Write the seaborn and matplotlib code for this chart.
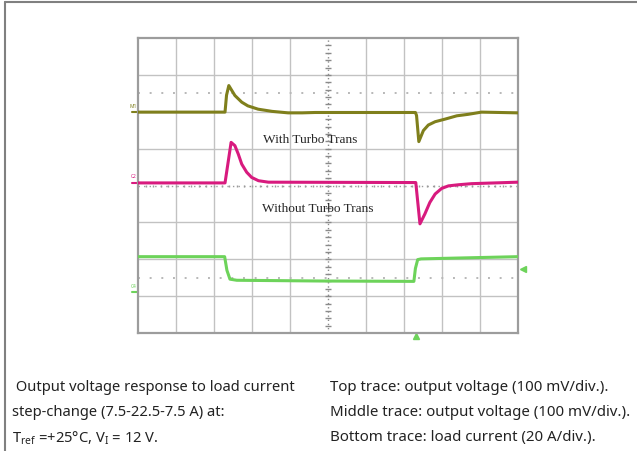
"""
Scope capture: output voltage response to a load current step,
with and without Turbo Trans. Screen units are divisions (10 x 8).
"""

import numpy as np
import pandas as pd
import matplotlib.pyplot as plt
from matplotlib.lines import Line2D
import seaborn as sns

# Top trace (with Turbo Trans), position in divisions
top_t = [0, 2.29, 2.33, 2.39, 2.55, 2.73, 2.89, 3.16, 3.53, 3.95, 4.32, 4.66,
         7.30, 7.33, 7.39, 7.51, 7.64, 7.82, 8.08, 8.39, 8.69, 9.04, 10]
top_v = [5.99, 5.99, 6.45, 6.71, 6.44, 6.26, 6.16, 6.07, 6.01, 5.97, 5.97, 5.98,
         5.98, 5.90, 5.19, 5.49, 5.64, 5.73, 5.80, 5.89, 5.93, 5.99, 5.97]

# Middle trace (without Turbo Trans)
mid_t = [0, 2.29, 2.45, 2.55, 2.64, 2.73, 2.86, 2.99, 3.17, 3.43,
         7.31, 7.42, 7.55, 7.68, 7.82, 7.99, 8.17, 8.43, 8.78, 10]
mid_v = [4.07, 4.07, 5.17, 5.08, 4.85, 4.58, 4.36, 4.22, 4.13, 4.09,
         4.08, 2.96, 3.23, 3.54, 3.77, 3.92, 3.99, 4.02, 4.05, 4.09]

# Bottom trace (load current)
bot_t = [0, 2.28, 2.34, 2.42, 2.60, 4.80, 7.26, 7.30, 7.36, 7.45, 8.30, 10]
bot_v = [2.07, 2.07, 1.70, 1.46, 1.43, 1.41, 1.40, 1.75, 1.99, 2.01, 2.03, 2.07]

trace_names = ['top', 'mid', 'bot']
trace_colors = {'top': '#7f7f1c', 'mid': '#d81a7e', 'bot': '#6dd35a'}

ref_levels = [6.5, 1.5]  # dotted reference lines

caption_left = [' Output voltage response to load current',
                'step-change (7.5-22.5-7.5 A) at:',
                r'T$_\mathrm{ref}$ =+25°C, V$_\mathrm{I}$ = 12 V.']
caption_right = ['Top trace: output voltage (100 mV/div.).',
                 'Middle trace: output voltage (100 mV/div.).',
                 'Bottom trace: load current (20 A/div.).']

df = pd.concat([
    pd.DataFrame({'t': top_t, 'v': top_v, 'trace': 'top'}),
    pd.DataFrame({'t': mid_t, 'v': mid_v, 'trace': 'mid'}),
    pd.DataFrame({'t': bot_t, 'v': bot_v, 'trace': 'bot'}),
])

sns.set_style('white')
plt.rcParams['font.family'] = ['Noto Sans', 'DejaVu Sans']
plt.rcParams['mathtext.fontset'] = 'custom'
plt.rcParams['mathtext.rm'] = 'Noto Sans'

W, H = 637, 452
fig = plt.figure(figsize=(W / 100, H / 100), dpi=100)
ax = fig.add_axes([138 / W, (H - 334) / H, 380 / W, 295 / H])
ax.set_xlim(0, 10)
ax.set_ylim(0, 8)

# graticule
grid_c = '#c2c2c2'
for i in range(1, 10):
    if i != 5:
        ax.axvline(i, color=grid_c, lw=1, zorder=0)
for j in range(1, 8):
    if j != 4:
        ax.axhline(j, color=grid_c, lw=1, zorder=0)
ax.axvline(5, color='#8a8a8a', lw=1, ls=(0, (1, 2)), zorder=0)
ax.axhline(4, color='#9a9a9a', lw=1, ls=(0, (1, 3)), zorder=0)
minor = np.arange(0.2, 8, 0.2)
ax.plot([5] * len(minor), minor, ls='none', marker='_', ms=4, color='#8a8a8a', zorder=0)
minor_x = np.arange(0.2, 10, 0.2)
ax.plot(minor_x, [4] * len(minor_x), ls='none', marker='|', ms=2, color='#9a9a9a', zorder=0)
for lv in ref_levels:
    ax.axhline(lv, color='#b8b8b8', lw=1.4, ls=(0, (1, 5)), zorder=0)

sns.lineplot(data=df, x='t', y='v', hue='trace', hue_order=trace_names,
             palette=trace_colors, estimator=None, sort=False, legend=False,
             lw=2.2, ax=ax, zorder=3)

# channel markers
for name, lbl, y in [('top', 'M1', top_v[0]), ('mid', 'C2', mid_v[0]), ('bot', 'C4', 1.1)]:
    ax.plot([-0.16, 0], [y, y], color=trace_colors[name], lw=1.5, clip_on=False)
    ax.text(-0.12, y + 0.12, lbl, fontsize=3.5, color=trace_colors[name],
            ha='center', va='bottom', clip_on=False)
ax.plot([10.12], [1.74], marker='<', ms=4, color=trace_colors['bot'], clip_on=False)
ax.plot([7.32], [-0.08], marker='^', ms=4, color=trace_colors['bot'], clip_on=False)

ax.text(4.53, 5.26, 'With Turbo Trans', family='Liberation Serif', fontsize=9.6,
        ha='center', va='center')
ax.text(4.73, 3.39, 'Without Turbo Trans', family='Liberation Serif', fontsize=9.6,
        ha='center', va='center')

ax.set_xticks([])
ax.set_yticks([])
ax.set_xlabel('')
ax.set_ylabel('')
for s in ax.spines.values():
    s.set_visible(True)
    s.set_color('#9c9c9c')
    s.set_linewidth(1.6)

# image frame
fig.add_artist(Line2D([5 / W, 1], [1 - 3 / H, 1 - 3 / H], color='#808080', lw=1.5))
fig.add_artist(Line2D([5 / W, 5 / W], [0, 1 - 3 / H], color='#808080', lw=1.5))

for k, (l, r) in enumerate(zip(caption_left, caption_right)):
    y = 1 - (388 + 25 * k) / H
    fig.text(12 / W, y, l, fontsize=10.6, va='center', ha='left', color='#222222')
    fig.text(330 / W, y, r, fontsize=10.8, va='center', ha='left', color='#222222')

fig.savefig('out.png', dpi=100)
